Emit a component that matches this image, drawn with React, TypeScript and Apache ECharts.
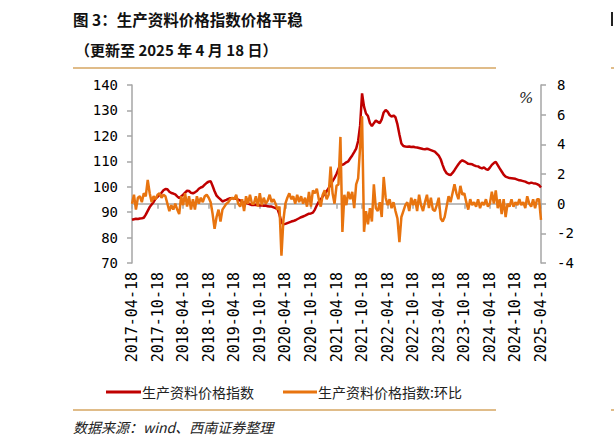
import * as echarts from 'echarts';
import { useEffect, useRef } from 'react';

// x-axis tick labels, one every 13 points (half a year)
const tickLabels = [
    '2017-04-18', '2017-10-18', '2018-04-18', '2018-10-18', '2019-04-18', '2019-10-18',
    '2020-04-18', '2020-10-18', '2021-04-18', '2021-10-18', '2022-04-18', '2022-10-18',
    '2023-04-18', '2023-10-18', '2024-04-18', '2024-10-18', '2025-04-18',
];
const TICK_STEP = 13;

const seriesNames = ['生产资料价格指数', '生产资料价格指数:环比'];

// 生产资料价格指数 (left axis), roughly biweekly
const ppiIndex = [
    87.0, 87.2, 87.4, 87.3, 87.5, 87.6, 87.8, 89.0, 90.5, 92.0,
    93.0, 94.0, 95.3, 96.0, 96.8, 97.6, 98.6, 99.1, 99.0, 98.0,
    97.5, 97.3, 97.0, 96.2, 95.5, 96.2, 96.8, 97.7, 98.4, 98.3,
    97.6, 97.4, 97.8, 98.3, 99.2, 99.7, 100.0, 100.8, 101.5, 102.0,
    102.2, 100.3, 98.2, 96.5, 95.7, 95.0, 94.2, 94.5, 94.8, 95.2,
    95.5, 95.5, 95.5, 95.3, 94.9, 94.6, 93.5, 93.8, 93.6, 93.4,
    93.1, 92.8, 92.8, 92.9, 92.8, 92.6, 92.7, 92.5, 92.6, 92.3,
    92.2, 92.2, 91.9, 91.6, 91.2, 89.0, 86.0, 85.2, 85.4, 85.7,
    86.0, 86.3, 86.5, 86.8, 87.2, 87.6, 88.0, 88.3, 88.6, 89.0,
    89.4, 89.5, 89.8, 91.0, 92.7, 94.1, 95.0, 96.2, 97.2, 98.2,
    99.4, 100.8, 102.2, 103.5, 105.0, 107.0, 108.5, 108.6, 109.0, 109.6,
    110.0, 111.2, 112.3, 113.6, 115.0, 118.0, 124.0, 136.7, 131.5, 128.8,
    127.8, 125.0, 123.8, 125.0, 126.0, 125.5, 125.0, 126.5, 129.2, 130.2,
    129.5, 128.2, 127.6, 128.0, 127.3, 124.5, 120.5, 117.0, 116.0, 115.8,
    115.7, 115.8, 115.6, 115.7, 115.5, 115.4, 115.2, 115.0, 114.8, 114.7,
    114.9, 114.7, 114.4, 114.1, 113.8, 113.0, 112.2, 110.8, 108.5, 106.5,
    105.3, 104.8, 104.6, 105.4, 106.5, 107.7, 108.8, 109.8, 110.4, 110.0,
    109.5, 109.0, 108.9, 108.8, 108.4, 108.1, 108.0, 107.5, 107.2, 107.6,
    106.9, 106.6, 107.5, 108.6, 109.3, 109.8, 108.5, 107.2, 106.0, 104.8,
    104.0, 103.7, 103.4, 103.3, 103.2, 103.1, 102.8, 102.5, 102.4, 102.2,
    102.0, 101.6, 101.3, 101.6, 101.4, 101.3, 101.0, 100.6, 99.7,
];

// 生产资料价格指数:环比 (right axis, %)
const ppiMoM = [
    0.0, 0.6, -0.4, 0.4, 0.5, 0.1, 0.7, 0.5, 1.6, 0.7,
    0.1, 0.5, 0.3, 0.6, 0.7, 0.4, 0.6, 0.5, 0.0, -0.5,
    -0.1, -0.4, 0.0, -0.4, -0.7, 0.5, -0.1, 0.7, -0.2, 0.5,
    -0.4, 0.3, -0.4, 0.5, 0.0, 0.4, 0.1, 0.5, 0.6, 0.4,
    0.1, -0.7, -1.7, -0.9, -0.4, -1.2, -0.4, -0.2, 0.0, 0.1,
    0.3, 0.4, 0.3, 0.6, 0.0, -0.2, 0.3, -0.5, 0.5, 0.0,
    0.6, 0.0, 0.0, 0.5, -0.2, 0.7, -0.1, 0.4, 0.0, 0.2,
    0.6, 0.1, 0.3, 0.0, -0.4, -0.2, -3.5, -1.1, 0.0, 0.4,
    0.7, 0.3, 0.5, 0.0, 0.6, 0.1, 0.5, 0.0, 0.4, -0.2,
    0.8, -0.2, 0.9, 0.7, 1.0, 0.3, -0.2, 0.6, 0.9, 0.3,
    0.6, 2.5, 0.7, 0.0, 1.2, 1.3, 4.5, -1.9, 0.6, -0.1,
    0.8, 0.3, 0.8, -0.3, 1.3, 1.7, 3.8, 5.9, -1.9, -0.5,
    -1.4, -0.3, -1.2, 1.3, -0.3, -0.5, 0.1, -0.9, 1.8, 0.4,
    -0.1, 0.3, -0.3, 0.1, -0.5, -1.0, -2.6, -0.9, -0.5, -0.1,
    0.1, -0.5, 0.4, -0.1, 0.3, -0.5, 0.6, -0.1, -0.5, 0.1,
    0.6, -0.3, 0.4, -0.4, -0.5, -0.1, 0.4, -1.0, -1.2, -0.9,
    -0.2, 0.5, 0.1, 0.7, 1.3, 0.7, 0.3, 1.2, 0.6, 0.7,
    0.1, -0.4, 0.3, -0.1, 0.1, -0.2, 0.3, -0.3, 0.1, -0.1,
    0.3, -0.2, 0.0, 0.8, 0.0, 0.9, -0.3, 0.3, -0.7, 0.3,
    -0.9, 0.0, -0.2, 0.3, -0.2, 0.1, -0.1, 0.3, -0.1, 0.1,
    -0.3, 0.5, 0.0, -0.2, 0.3, -0.3, 0.3, 0.3, -1.1,
];

const RED = '#C00000';
const ORANGE = '#E8740F';
const AXIS_GRAY = '#A6A6A6';
const RULE = '#D6A662';
const CJK = 'Noto Sans CJK SC';
const MONO = 'DejaVu Sans Mono';

export default function App() {
    const chartRef = useRef<HTMLDivElement>(null);

    useEffect(() => {
        if (!chartRef.current) return;

        const chart = echarts.init(chartRef.current, undefined, { renderer: 'svg' });
        const categories = ppiIndex.map((_, i) => String(i));

        const axisLabelStyle = { fontFamily: MONO, fontSize: 14, color: '#000' };
        const legendText = { fontFamily: CJK, fontSize: 14, fill: '#222', textVerticalAlign: 'middle' as const };

        const option: echarts.EChartsOption = {
            animation: false,
            backgroundColor: '#fff',
            grid: { left: 132, right: 73, top: 85, bottom: 184 },
            xAxis: {
                type: 'category',
                data: categories,
                boundaryGap: false,
                axisLine: { lineStyle: { color: AXIS_GRAY, width: 1.5 } },
                axisTick: { interval: TICK_STEP - 1, length: 5, lineStyle: { color: AXIS_GRAY, width: 1.5 } },
                axisLabel: {
                    ...axisLabelStyle,
                    fontSize: 15,
                    interval: TICK_STEP - 1,
                    rotate: 90,
                    margin: 9,
                    formatter: (v: string) => tickLabels[Number(v) / TICK_STEP] ?? '',
                },
                splitLine: { show: false },
            },
            yAxis: [
                {
                    type: 'value',
                    position: 'left',
                    min: 70,
                    max: 140,
                    interval: 10,
                    axisLine: { show: true, lineStyle: { color: AXIS_GRAY, width: 1.5 } },
                    axisTick: { show: true, length: 5, lineStyle: { color: AXIS_GRAY, width: 1.5 } },
                    axisLabel: { ...axisLabelStyle, margin: 14 },
                    splitLine: { show: false },
                },
                {
                    type: 'value',
                    position: 'right',
                    min: -4,
                    max: 8,
                    interval: 2,
                    axisLine: { show: true, lineStyle: { color: AXIS_GRAY, width: 1.5 } },
                    axisTick: { show: true, length: 5, lineStyle: { color: AXIS_GRAY, width: 1.5 } },
                    axisLabel: { ...axisLabelStyle, margin: 16 },
                    splitLine: { show: false },
                },
            ],
            series: [
                {
                    name: seriesNames[0],
                    type: 'line',
                    yAxisIndex: 0,
                    data: ppiIndex,
                    showSymbol: false,
                    lineStyle: { color: RED, width: 2.5 },
                    itemStyle: { color: RED },
                },
                {
                    name: seriesNames[1],
                    type: 'line',
                    yAxisIndex: 1,
                    data: ppiMoM,
                    showSymbol: false,
                    lineStyle: { color: ORANGE, width: 2.5 },
                    itemStyle: { color: ORANGE },
                },
            ],
            graphic: [
                {
                    type: 'text',
                    left: 73,
                    top: 11,
                    style: { text: '图 3：生产资料价格指数价格平稳', fontFamily: CJK, fontWeight: 'bold', fontSize: 15.5, fill: '#111' },
                },
                {
                    type: 'text',
                    left: 75,
                    top: 42,
                    style: { text: '（更新至 2025 年 4 月 18 日）', fontFamily: CJK, fontWeight: 'bold', fontSize: 15, fill: '#111' },
                },
                { type: 'line', shape: { x1: 73, y1: 68, x2: 496, y2: 68 }, style: { stroke: RULE, lineWidth: 1.5 } },
                { type: 'line', shape: { x1: 73, y1: 410, x2: 496, y2: 410 }, style: { stroke: RULE, lineWidth: 1.5 } },
                // fragments of the neighbouring figure at the right edge
                { type: 'line', shape: { x1: 611, y1: 68, x2: 614, y2: 68 }, style: { stroke: RULE, lineWidth: 1.5 } },
                { type: 'line', shape: { x1: 611, y1: 410, x2: 614, y2: 410 }, style: { stroke: RULE, lineWidth: 1.5 } },
                { type: 'rect', shape: { x: 611, y: 12, width: 2, height: 14 }, style: { fill: '#222' } },
                // legend
                { type: 'line', shape: { x1: 106, y1: 392, x2: 141, y2: 392 }, style: { stroke: RED, lineWidth: 3 } },
                { type: 'text', x: 142, y: 392, style: { ...legendText, text: seriesNames[0] } },
                { type: 'line', shape: { x1: 283, y1: 392, x2: 317, y2: 392 }, style: { stroke: ORANGE, lineWidth: 3 } },
                { type: 'text', x: 318, y: 392, style: { ...legendText, text: seriesNames[1] } },
                {
                    type: 'text',
                    left: 519,
                    top: 90,
                    style: { text: '%', fontFamily: 'DejaVu Serif', fontStyle: 'italic', fontSize: 15, fill: '#222' },
                },
                {
                    type: 'text',
                    left: 73,
                    top: 420,
                    style: { text: '数据来源：wind、西南证券整理', fontFamily: CJK, fontStyle: 'italic', fontSize: 14, fill: '#222' },
                },
            ],
        };

        chart.setOption(option);

        return () => {
            chart.dispose();
        };
    }, []);

    return (
        <div
            ref={chartRef}
            style={{ position: 'absolute', left: 0, top: 0, width: '614px', height: '447px', background: '#fff' }}
        />
    );
}
